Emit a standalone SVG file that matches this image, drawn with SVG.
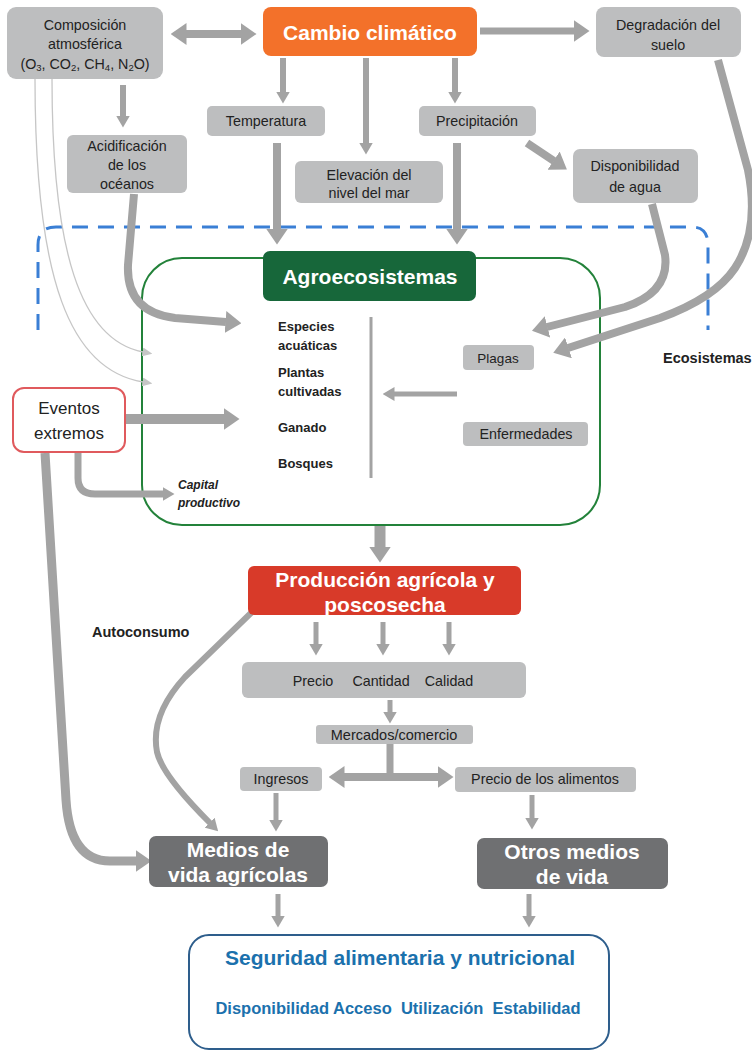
<svg xmlns="http://www.w3.org/2000/svg" width="752" height="1052" viewBox="0 0 752 1052">
<style>
text{font-family:"Liberation Sans",Arial,sans-serif;fill:#222;text-anchor:middle;dominant-baseline:central}
.gb{fill:#bdbebf}
.t14{font-size:14.3px}
.t13{font-size:13.5px}
.hw{fill:#fff;font-weight:bold;font-size:21px}
.b{font-weight:bold}
.c{fill:none;stroke:#a3a3a3;stroke-linecap:butt;stroke-linejoin:round}
.cL{marker-end:url(#hL)}
.cM{marker-end:url(#hM)}
.thin{fill:none;stroke:#c6c6c6;stroke-width:1.3;marker-end:url(#hS)}
</style>
<defs>
<marker id="hL" viewBox="0 0 16 22" refX="0.5" refY="11" markerWidth="16" markerHeight="22" markerUnits="userSpaceOnUse" orient="auto-start-reverse"><path d="M0,0 L16,11 L0,22z" fill="#a3a3a3"/></marker>
<marker id="hM" viewBox="0 0 12 14" refX="0.5" refY="7" markerWidth="12" markerHeight="14" markerUnits="userSpaceOnUse" orient="auto-start-reverse"><path d="M0,0 L12,7 L0,14z" fill="#a3a3a3"/></marker>
<marker id="hS" viewBox="0 0 10 9" refX="0.5" refY="4.5" markerWidth="10" markerHeight="9" markerUnits="userSpaceOnUse" orient="auto"><path d="M0,0 L10,4.5 L0,9z" fill="#c6c6c6"/></marker>
</defs>
<rect width="752" height="1052" fill="#fff"/>

<!-- ecosystem dashed boundary -->
<path id="ecosistemas-boundary" d="M38 330 L38 245 Q38 227 56 227 L692 227 Q708 227 708 245 L708 330" fill="none" stroke="#3a7fd5" stroke-width="3" stroke-dasharray="16 10"/>
<text x="663" y="358" class="b" style="font-size:14.5px;text-anchor:start">Ecosistemas</text>

<!-- Agroecosistemas container -->
<g id="agroecosistemas">
<rect x="142" y="258" width="458" height="267" rx="40" fill="none" stroke="#23823a" stroke-width="2"/>
<rect x="263" y="251" width="213" height="50" rx="7" fill="#17673a"/>
<text x="370" y="276" class="hw">Agroecosistemas</text>
<g class="b" style="font-size:13px">
<text x="278" y="326" style="text-anchor:start">Especies</text>
<text x="278" y="345" style="text-anchor:start">acuáticas</text>
<text x="278" y="372" style="text-anchor:start">Plantas</text>
<text x="278" y="391" style="text-anchor:start">cultivadas</text>
<text x="278" y="427" style="text-anchor:start">Ganado</text>
<text x="278" y="463" style="text-anchor:start">Bosques</text>
</g>
<line x1="371" y1="317" x2="371" y2="478" stroke="#a3a3a3" stroke-width="3"/>
</g>

<g id="connectors">
<path class="c cL" d="M186 34 L241 34" stroke-width="8" marker-start="url(#hL)"/>
<path class="c cL" d="M480 31 L574 31" stroke-width="7"/>
<path class="c cM" d="M283 58 L283 92" stroke-width="6"/>
<path class="c cM" d="M366 58 L366 143" stroke-width="6"/>
<path class="c cM" d="M455 58 L455 92" stroke-width="6"/>
<path class="c cM" d="M123 85 L123 116" stroke-width="6"/>
<path class="c cL" d="M527 143 L554 161" stroke-width="8"/>
<path class="c cL" d="M277 143 L277 229" stroke-width="8"/>
<path class="c cL" d="M457 143 L457 229" stroke-width="8"/>
<path class="c cL" d="M134 194 L128 265 Q126 312 175 318 L226 322" stroke-width="8"/>
<path class="c cL" d="M652 204 L665 255 Q670 292 625 307 L547 327" stroke-width="8"/>
<path class="c cL" d="M718 60 L748 170 Q760 230 735 268 Q715 298 660 318 L568 348" stroke-width="8"/>
<path class="thin" d="M52 79 C52 250 80 340 143 352"/>
<path class="thin" d="M35 79 C35 280 70 370 143 382"/>
<path class="c cM" d="M457 394 L394 394" stroke-width="5"/>
<path class="c cL" d="M126 419 L224 419" stroke-width="10"/>
<path class="c cM" d="M78 453 L78 478 Q78 494 95 494 L163 494" stroke-width="7"/>
<path class="c cL" d="M45 453 L66 800 Q70 861 110 861 L136 861" stroke-width="9"/>
<path class="c cL" d="M380 526 L380 547" stroke-width="11"/>
<path class="c cM" d="M316 622 L316 644" stroke-width="5"/>
<path class="c cM" d="M383 622 L383 644" stroke-width="5"/>
<path class="c cM" d="M449 622 L449 644" stroke-width="5"/>
<path class="c cM" d="M390 700 L390 712" stroke-width="5"/>
<path class="c" d="M390 744 L390 777" stroke-width="7"/>
<path class="c cL" d="M344 777 L438 777" stroke-width="8" marker-start="url(#hL)"/>
<path class="c cM" d="M276 793 L276 820" stroke-width="5"/>
<path class="c cM" d="M252 612 L185 677 Q150 715 157 752 Q162 775 210 823" stroke-width="6"/>
<path class="c cM" d="M532 795 L532 818" stroke-width="5"/>
<path class="c cM" d="M278 894 L278 916" stroke-width="5"/>
<path class="c cM" d="M529 894 L529 916" stroke-width="5"/>
</g>

<g id="composicion">
<rect x="7" y="7" width="156" height="72" rx="9" class="gb"/>
<text x="85" y="25" class="t14">Composición</text>
<text x="85" y="44" class="t14">atmosférica</text>
<text x="85" y="64" class="t14">(O<tspan dy="3" style="font-size:9.5px">3</tspan><tspan dy="-3">, CO</tspan><tspan dy="3" style="font-size:9.5px">2</tspan><tspan dy="-3">, CH</tspan><tspan dy="3" style="font-size:9.5px">4</tspan><tspan dy="-3">, N</tspan><tspan dy="3" style="font-size:9.5px">2</tspan><tspan dy="-3">O)</tspan></text>
</g>

<g id="cambio">
<rect x="263" y="7" width="214" height="49" rx="8" fill="#f3712a"/>
<text x="370" y="32" class="hw">Cambio climático</text>
</g>

<g id="degradacion">
<rect x="596" y="7" width="145" height="50" rx="8" class="gb"/>
<text x="668" y="25" class="t14">Degradación del</text>
<text x="668" y="45" class="t14">suelo</text>
</g>

<g id="temperatura">
<rect x="207" y="106" width="118" height="30" rx="5" class="gb"/>
<text x="266" y="121" class="t14">Temperatura</text>
</g>

<g id="precipitacion">
<rect x="419" y="106" width="117" height="30" rx="5" class="gb"/>
<text x="477" y="121" class="t14">Precipitación</text>
</g>

<g id="elevacion">
<rect x="295" y="161" width="148" height="42" rx="6" class="gb"/>
<text x="369" y="175" class="t14">Elevación del</text>
<text x="369" y="193" class="t14">nivel del mar</text>
</g>

<g id="disponibilidad">
<rect x="573" y="149" width="125" height="54" rx="7" class="gb"/>
<text x="635" y="166" class="t14">Disponibilidad</text>
<text x="635" y="187" class="t14">de agua</text>
</g>

<g id="acidificacion">
<rect x="67" y="135" width="120" height="58" rx="6" class="gb"/>
<text x="127" y="146" class="t14">Acidificación</text>
<text x="127" y="165" class="t14">de los</text>
<text x="127" y="184" class="t14">océanos</text>
</g>

<g id="plagas">
<rect x="463" y="345" width="71" height="25" rx="4" class="gb"/>
<text x="498" y="358" class="t13">Plagas</text>
</g>

<g id="enfermedades">
<rect x="463" y="422" width="125" height="24" rx="4" class="gb"/>
<text x="526" y="434" class="t14">Enfermedades</text>
</g>

<g id="eventos">
<rect x="13" y="388" width="112" height="64" rx="11" fill="#fff" stroke="#e05a5d" stroke-width="2"/>
<text x="69" y="408" style="font-size:17px">Eventos</text>
<text x="69" y="433" style="font-size:17px">extremos</text>
</g>

<g id="capital">
<text x="178" y="485" class="b" style="font-size:12px;font-style:italic;text-anchor:start">Capital</text>
<text x="178" y="503" class="b" style="font-size:12px;font-style:italic;text-anchor:start">productivo</text>
</g>

<g id="produccion">
<rect x="248" y="566" width="273" height="49" rx="6" fill="#d83a29"/>
<text x="385" y="579" class="hw">Producción agrícola y</text>
<text x="385" y="604" class="hw">poscosecha</text>
</g>

<text id="autoconsumo" x="92" y="632" class="b" style="font-size:14.5px;text-anchor:start">Autoconsumo</text>

<g id="precio-cantidad-calidad">
<rect x="242" y="662" width="284" height="36" rx="6" class="gb"/>
<text x="313" y="681" class="t14">Precio</text>
<text x="381" y="681" class="t14">Cantidad</text>
<text x="449" y="681" class="t14">Calidad</text>
</g>

<g id="mercados">
<rect x="316" y="725" width="157" height="19" rx="3" class="gb"/>
<text x="394" y="735" style="font-size:14.5px">Mercados/comercio</text>
</g>

<g id="ingresos">
<rect x="240" y="767" width="82" height="24" rx="4" class="gb"/>
<text x="281" y="779" class="t14">Ingresos</text>
</g>

<g id="precio-alimentos">
<rect x="455" y="767" width="181" height="25" rx="4" class="gb"/>
<text x="545" y="779" class="t14">Precio de los alimentos</text>
</g>

<g id="medios-agricolas">
<rect x="149" y="836" width="179" height="51" rx="7" fill="#6f7072"/>
<text x="238" y="849" class="hw">Medios de</text>
<text x="238" y="874" class="hw">vida agrícolas</text>
</g>

<g id="otros-medios">
<rect x="477" y="838" width="191" height="51" rx="7" fill="#6f7072"/>
<text x="572" y="851" class="hw">Otros medios</text>
<text x="572" y="876" class="hw">de vida</text>
</g>

<g id="seguridad">
<rect x="189" y="935" width="420" height="114" rx="20" fill="#fff" stroke="#2e5e8c" stroke-width="2"/>
<text x="400" y="957" class="b" style="font-size:21px;fill:#1b71ad">Seguridad alimentaria y nutricional</text>
<text x="398" y="1008" class="b" style="font-size:16.5px;fill:#1b71ad" xml:space="preserve">Disponibilidad Acceso  Utilización  Estabilidad</text>
</g>
</svg>
